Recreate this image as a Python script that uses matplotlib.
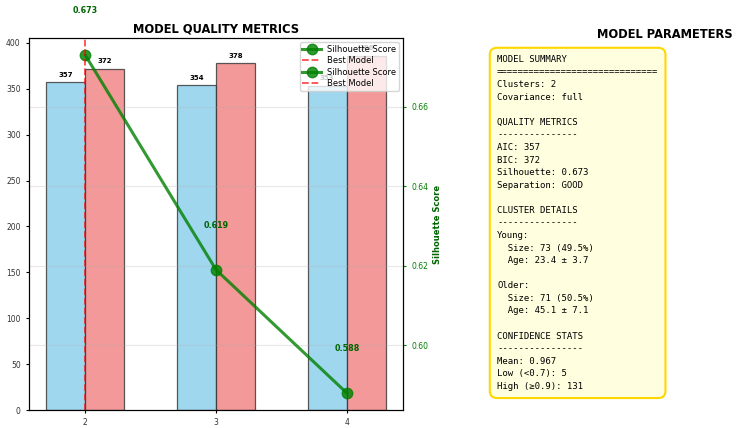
import matplotlib
matplotlib.use('Agg')
import matplotlib.pyplot as plt
import numpy as np
from matplotlib.lines import Line2D

# data
n_clusters = [2, 3, 4]
aic = [357, 354, 353]
bic = [372, 378, 386]
silhouette = [0.673, 0.619, 0.588]
best_k = 2

summary_lines = [
    "MODEL SUMMARY",
    "=" * 30,
    "Clusters: 2",
    "Covariance: full",
    "",
    "QUALITY METRICS",
    "-" * 15,
    "AIC: 357",
    "BIC: 372",
    "Silhouette: 0.673",
    "Separation: GOOD",
    "",
    "CLUSTER DETAILS",
    "-" * 15,
    "Young:",
    "  Size: 73 (49.5%)",
    "  Age: 23.4 \u00b1 3.7",
    "",
    "Older:",
    "  Size: 71 (50.5%)",
    "  Age: 45.1 \u00b1 7.1",
    "",
    "CONFIDENCE STATS",
    "-" * 16,
    "Mean: 0.967",
    "Low (<0.7): 5",
    "High (\u22650.9): 131",
]

fig = plt.figure(figsize=(7.37, 4.28), dpi=100)
ax1 = fig.add_axes([0.0393, 0.042, 0.5077, 0.869])

x = np.array(n_clusters)
width = 0.3
bars1 = ax1.bar(x - width / 2, aic, width, color='skyblue', alpha=0.8,
                edgecolor='#333333', linewidth=0.9)
bars2 = ax1.bar(x + width / 2, bic, width, color='lightcoral', alpha=0.8,
                edgecolor='#333333', linewidth=0.9)
for bars in (bars1, bars2):
    for b in bars:
        ax1.text(b.get_x() + b.get_width() / 2, b.get_height() + 5,
                 f"{b.get_height():.0f}", ha='center', va='bottom',
                 fontsize=5, fontweight='bold')

ax1.set_xticks(n_clusters)
ax1.tick_params(labelsize=5.5, length=2.5, labelcolor='#333333')
ax1.set_title('MODEL QUALITY METRICS', fontsize=8.3, fontweight='bold', pad=4)

ax2 = ax1.twinx()
ax2.plot(n_clusters, silhouette, 'o-', color='green', linewidth=2.2,
         markersize=7.5, alpha=0.8)
for k, s in zip(n_clusters, silhouette):
    ax2.text(k, s + 0.01, f"{s:.3f}", ha='center', va='bottom',
             fontsize=5.8, fontweight='bold', color='darkgreen')
ax2.axvline(best_k, color='red', linestyle='--', alpha=0.7, linewidth=1.3)
ax2.set_ylabel('Silhouette Score', fontsize=6, fontweight='bold',
               color='darkgreen', labelpad=3)
ax2.tick_params(axis='y', labelsize=5.5, length=2.5, colors='green')
ax2.grid(True, alpha=0.3)

h_sil = Line2D([], [], color='green', marker='o', linewidth=2.2,
               markersize=7.5, alpha=0.8)
h_best = Line2D([], [], color='red', linestyle='--', alpha=0.7, linewidth=1.3)
ax2.legend([h_sil, h_best, h_sil, h_best],
           ['Silhouette Score', 'Best Model', 'Silhouette Score', 'Best Model'],
           loc='upper right', fontsize=6, borderpad=0.3, labelspacing=0.3,
           handlelength=2.2)

fig.text(0.902, 1 - 35 / 428, 'MODEL PARAMETERS', ha='center', va='center',
         fontsize=8.3, fontweight='bold')
fig.text(497 / 737, 1 - 55 / 428, "\n".join(summary_lines), ha='left', va='top',
         family='DejaVu Sans Mono', fontsize=6.5, linespacing=1.51,
         bbox=dict(boxstyle='round,pad=0.8', facecolor='lightyellow',
                   edgecolor='gold', linewidth=1.5))

plt.savefig('out.png', dpi=100)
